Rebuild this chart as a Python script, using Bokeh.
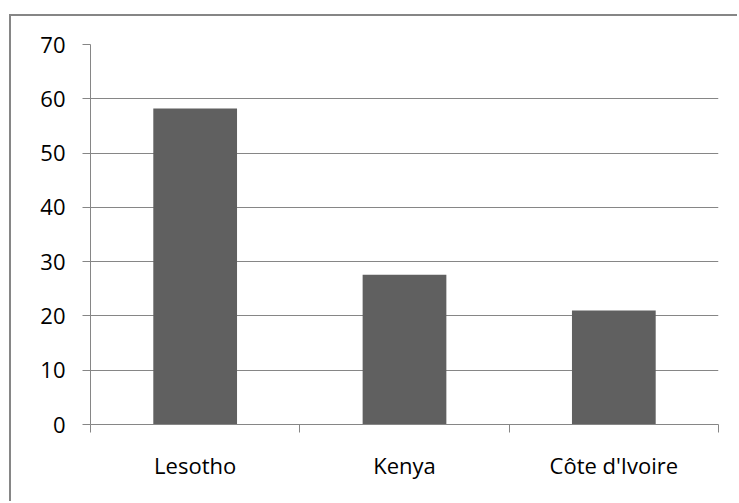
from bokeh.plotting import figure
from bokeh.models import FixedTicker, LinearAxis, Range1d, Grid, ColumnDataSource
from bokeh.embed import file_html
from bokeh.resources import INLINE

# Data
countries = ["Lesotho", "Kenya", "Côte d'Ivoire"]
values = [58.2, 27.6, 21.0]
y_ticks = [0, 10, 20, 30, 40, 50, 60, 70]

GRAY = "#868686"
BAR = "#606060"
FONT = "Open Sans"
FONT_SIZE = "22px"

# Chart-area border sits 9px in from the left and 14px down from the top
OFF_X, OFF_Y, EDGE = 9, 14, 2

positions = [i + 0.5 for i in range(len(countries))]
boundaries = list(range(len(countries) + 1))
src = ColumnDataSource(dict(x=positions, top=values, country=countries))

p = figure(width=739 - OFF_X - EDGE, height=503 - OFF_Y - EDGE,
           output_backend="svg", toolbar_location=None,
           x_range=Range1d(0, len(countries)), y_range=Range1d(0, 70),
           x_axis_location=None, y_axis_location=None,
           min_border_left=90 - OFF_X - EDGE, min_border_right=21,
           min_border_top=44 - OFF_Y - EDGE, min_border_bottom=79)
p.styles = {
    "margin-left": f"{OFF_X}px",
    "margin-top": f"{OFF_Y}px",
    "border-left": f"{EDGE}px solid {GRAY}",
    "border-top": f"{EDGE}px solid {GRAY}",
}
p.outline_line_color = None
p.background_fill_color = "white"
p.border_fill_color = "white"
for g in p.xgrid + p.ygrid:
    g.visible = False

# Value axis with horizontal gridlines
yaxis = LinearAxis(ticker=FixedTicker(ticks=y_ticks))
yaxis.axis_line_color = GRAY
yaxis.major_tick_line_color = GRAY
yaxis.major_tick_out = 8
yaxis.major_tick_in = 0
yaxis.minor_tick_line_color = None
yaxis.major_label_standoff = 17
yaxis.major_label_text_font = FONT
yaxis.major_label_text_font_size = FONT_SIZE
yaxis.major_label_text_color = "black"
p.add_layout(yaxis, "left")
p.add_layout(Grid(dimension=1, ticker=yaxis.ticker, grid_line_color=GRAY,
                  grid_line_width=1))

# Category axis: tick marks between the categories
xaxis = LinearAxis(ticker=FixedTicker(ticks=boundaries))
xaxis.axis_line_color = GRAY
xaxis.major_tick_line_color = GRAY
xaxis.major_tick_out = 8
xaxis.major_tick_in = 0
xaxis.minor_tick_line_color = None
xaxis.major_label_overrides = {b: "" for b in boundaries}
xaxis.major_label_standoff = 0
xaxis.major_label_text_font_size = "1px"
p.add_layout(xaxis, "below")

# Category names centred under each bar
laxis = LinearAxis(ticker=FixedTicker(ticks=positions))
laxis.axis_line_color = None
laxis.major_tick_line_color = None
laxis.minor_tick_line_color = None
laxis.major_label_overrides = {x: c for x, c in zip(positions, countries)}
laxis.major_label_standoff = 11
laxis.major_label_text_font = FONT
laxis.major_label_text_font_size = FONT_SIZE
laxis.major_label_text_color = "black"
p.add_layout(laxis, "below")

p.vbar(x="x", top="top", width=0.4, bottom=0, source=src,
       fill_color=BAR, line_color=None)

open("out.html", "w").write(file_html(p, INLINE))
